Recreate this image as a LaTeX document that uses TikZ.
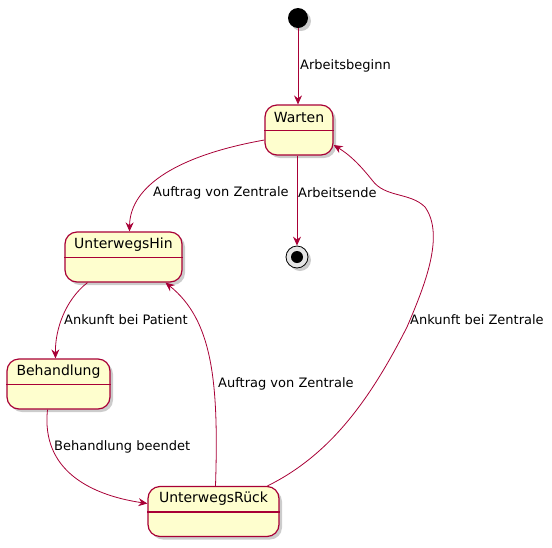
\documentclass[tikz,border=0pt]{standalone}
\usepackage{fontspec}
\setmainfont{DejaVu Sans}
\usetikzlibrary{arrows.meta,shadows}
\definecolor{umlred}{HTML}{A80036}
\definecolor{umlfill}{HTML}{FEFECE}

\begin{document}
\begin{tikzpicture}[x=1pt,y=-1pt,
    statebox/.style={draw=umlred, line width=1.2pt, fill=umlfill, rounded corners=12pt,
      minimum height=50pt, inner sep=0pt,
      drop shadow={shadow xshift=3pt, shadow yshift=-3pt, opacity=0.4}},
    statename/.style={font=\fontsize{14}{16}\selectfont, inner sep=0pt},
    headline/.style={draw=umlred, line width=1.2pt},
    transition/.style={draw=umlred, line width=0.8pt, -{Stealth[length=9pt,width=8pt,inset=3pt]}},
    translabel/.style={font=\fontsize{13}{15}\selectfont, anchor=west, inner sep=0pt}]

        \useasboundingbox (0,0) rectangle (552,547);

        %Start and end
        \node [circle, fill=black, minimum size=20pt, inner sep=0pt,
          drop shadow={shadow xshift=3pt, shadow yshift=-3pt, opacity=0.4}] (start) at (298,18) {};
        \node [circle, draw=black, line width=0.8pt, fill=gray!20, minimum size=22pt, inner sep=0pt,
          drop shadow={shadow xshift=3pt, shadow yshift=-3pt, opacity=0.4}] (end) at (297,257) {};
        \node [circle, fill=black, minimum size=12pt, inner sep=0pt] (end-dot) at (end) {};

        %Warten
        \node [statebox, minimum width=68pt] (warten) at (299,130) {};
        \draw [headline] ([yshift=-26pt]warten.north west) -- ([yshift=-26pt]warten.north east);
        \node [statename] (warten-name) at ([yshift=-13pt]warten.north) {Warten};

        %UnterwegsHin
        \node [statebox, minimum width=117pt] (hin) at (123.5,257) {};
        \draw [headline] ([yshift=-26pt]hin.north west) -- ([yshift=-26pt]hin.north east);
        \node [statename] (hin-name) at ([yshift=-13pt]hin.north) {UnterwegsHin};

        %Behandlung
        \node [statebox, minimum width=103pt] (beh) at (58.5,384) {};
        \draw [headline] ([yshift=-26pt]beh.north west) -- ([yshift=-26pt]beh.north east);
        \node [statename] (beh-name) at ([yshift=-13pt]beh.north) {Behandlung};

        %UnterwegsRueck
        \node [statebox, minimum width=131pt] (rueck) at (213.5,511.5) {};
        \draw [headline] ([yshift=-26pt]rueck.north west) -- ([yshift=-26pt]rueck.north east);
        \node [statename] (rueck-name) at ([yshift=-13pt]rueck.north) {UnterwegsRück};

        %Transitions
        \draw [transition] (start) -- ([xshift=-1pt]warten.north);
        \draw [transition] ([xshift=-2pt]warten.south) -- (end);
        \draw [transition] ([yshift=-10pt]warten.west) .. controls (180,155) and (130,185) .. ([xshift=6pt]hin.north);
        \draw [transition] ([xshift=-36pt]hin.south) .. controls (65,300) and (55,330) .. ([xshift=-3pt]beh.north);
        \draw [transition] ([xshift=-11pt]beh.south) .. controls (41,470) and (90,495) .. ([yshift=8pt]rueck.west);
        \draw [transition] ([xshift=2pt]rueck.north) .. controls (219,380) and (212,320) .. ([xshift=42pt]hin.south);
        \draw [transition] ([xshift=54pt]rueck.north) .. controls (330,455) and (370,400) .. (407,327)
          .. controls (425,285) and (445,235) .. (425,207)
          .. controls (410,192) and (385,198) .. (372,180)
          .. controls (360,165) and (350,155) .. ([yshift=-15pt]warten.east);

        %Labels
        \node [translabel] (l-beginn) at (300,66) {Arbeitsbeginn};
        \node [translabel] (l-auftrag1) at (153,193) {Auftrag von Zentrale};
        \node [translabel] (l-ende) at (298,193) {Arbeitsende};
        \node [translabel] (l-patient) at (64,320) {Ankunft bei Patient};
        \node [translabel] (l-zentrale) at (410,320) {Ankunft bei Zentrale};
        \node [translabel] (l-beendet) at (54,447) {Behandlung beendet};
        \node [translabel] (l-auftrag2) at (218,384) {Auftrag von Zentrale};

\end{tikzpicture}
\end{document}
